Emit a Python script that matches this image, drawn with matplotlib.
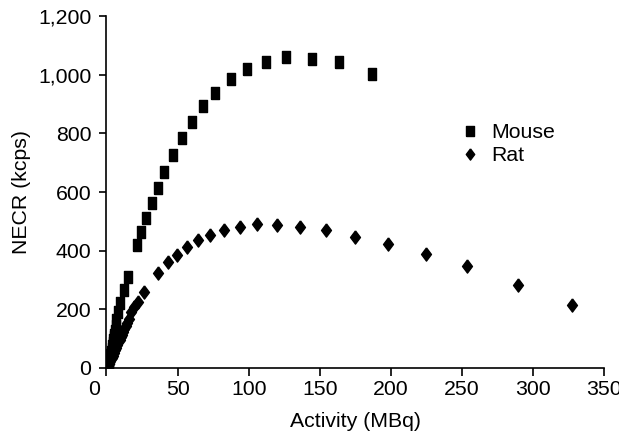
import matplotlib
matplotlib.use("Agg")
import matplotlib.pyplot as plt
import matplotlib.transforms as mtransforms
from matplotlib.ticker import FuncFormatter

# values (Activity in MBq, NECR in kcps)
mouse_activity = [1.2, 1.6, 2.0, 2.4, 2.8, 3.2, 3.6, 4.0, 4.4, 4.8, 5.2,
                  5.6, 6.0, 6.4, 6.8, 8.2, 9.6, 12.2, 14.8, 21.6, 24.2,
                  27.5, 31.7, 36.1, 40.8, 46.5, 53.0, 59.9, 67.6, 76.5,
                  87.3, 99.1, 112.4, 126.5, 144.8, 163.6, 186.4]
mouse_necr = [5, 14, 24, 34, 44, 54, 64, 74, 84, 94, 104,
              114, 126, 142, 164, 192, 223, 266, 309, 420, 464,
              512, 562, 614, 669, 725, 784, 840, 892, 938,
              986, 1020, 1045, 1060, 1053, 1043, 1004]

rat_activity = [1.2, 2.0, 2.8, 3.6, 4.4, 5.2, 6.0, 6.8, 7.6, 8.4, 9.2,
                10.0, 10.8, 11.6, 12.5, 13.5, 14.5, 15.8, 17.4, 19.6,
                22.0, 26.3, 36.4, 43.4, 49.5, 56.3, 64.1, 72.5, 82.4,
                93.7, 106.0, 120.2, 135.9, 154.7, 175.1, 198.1, 224.4,
                253.7, 289.7, 327.7]
rat_necr = [6, 15, 24, 33, 42, 51, 60, 69, 78, 87, 96,
            105, 114, 123, 133, 143, 154, 168, 192, 208,
            224, 259, 323, 362, 387, 411, 436, 455, 471,
            482, 490, 489, 482, 469, 448, 424, 390,
            348, 283, 215]

x_ticks = [0, 50, 100, 150, 200, 250, 300, 350]
y_ticks = [0, 200, 400, 600, 800, 1000, 1200]

plt.rcParams['font.family'] = ['Liberation Sans', 'DejaVu Sans']
FS = 15.3

square = [(-0.75, -1), (0.75, -1), (0.75, 1), (-0.75, 1), (-0.75, -1)]
diamond = [(0, 1), (0.75, 0), (0, -1), (-0.75, 0), (0, 1)]

fig = plt.figure(figsize=(6.19, 4.37), dpi=100)
ax = fig.add_axes([0.172, 0.158, 0.804, 0.805])

ax.plot(mouse_activity, mouse_necr, linestyle='none', marker=square,
        markersize=8, color='black', label='Mouse')
ax.plot(rat_activity, rat_necr, linestyle='none', marker=diamond,
        markersize=9.5, color='black', label='Rat')

ax.set_xlim(0, 350)
ax.set_ylim(0, 1200)
ax.set_xticks(x_ticks)
ax.set_yticks(y_ticks)
ax.yaxis.set_major_formatter(FuncFormatter(lambda v, p: f"{int(v):,}"))

for s in ['top', 'right']:
    ax.spines[s].set_visible(False)
for s in ['left', 'bottom']:
    ax.spines[s].set_linewidth(1.2)

ax.tick_params(axis='both', direction='out', width=1.2, labelsize=FS)
ax.tick_params(axis='y', length=5, pad=6)
ax.tick_params(axis='x', length=6, pad=3)

# the "0" on the x axis sits a little left of the axis in the original
lbl0 = ax.get_xticklabels()[0]
lbl0.set_transform(lbl0.get_transform() +
                   mtransforms.ScaledTranslation(-12 / 100, 0, fig.dpi_scale_trans))

ax.set_xlabel('Activity (MBq)', fontsize=FS, labelpad=9)
ax.set_ylabel('NECR (kcps)', fontsize=FS, labelpad=5)

ax.legend(loc='upper left', bbox_to_anchor=(0.67, 0.75), frameon=False,
          fontsize=FS, handlelength=1.0, handletextpad=0.5,
          labelspacing=0.2, markerscale=0.85)

fig.savefig('out.png', dpi=100)
